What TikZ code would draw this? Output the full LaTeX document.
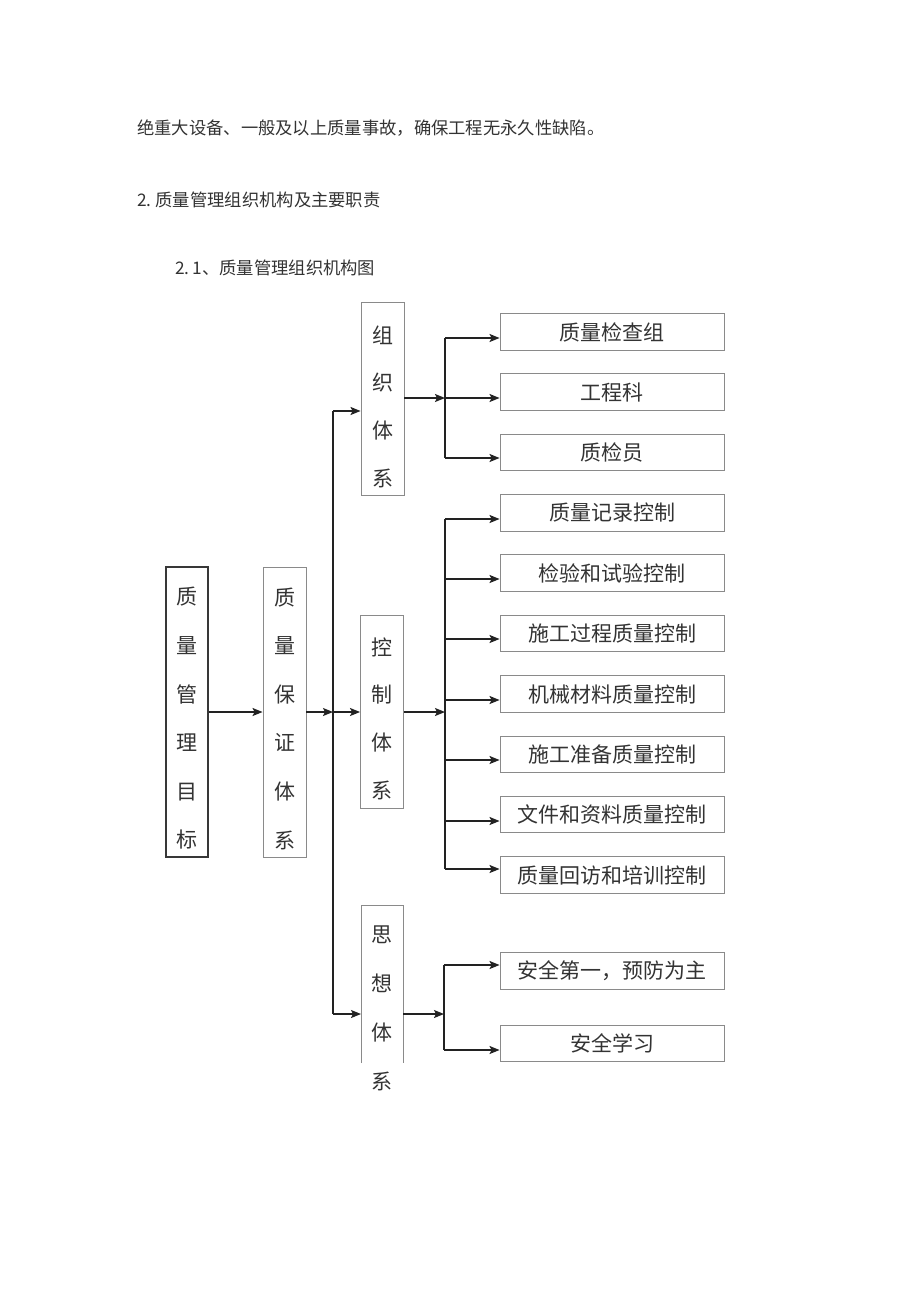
\documentclass[tikz,border=0pt]{standalone}
\usepackage{fontspec}
\setmainfont{Noto Sans CJK SC}
\usetikzlibrary{arrows.meta}
\definecolor{boxgray}{HTML}{8A8A8A}
\definecolor{darkbox}{HTML}{383838}
\definecolor{linec}{HTML}{222222}
\definecolor{txt}{HTML}{333333}
\begin{document}
\begin{tikzpicture}[x=1pt,y=-1pt,
  hbox/.style={draw=boxgray, line width=0.9pt, minimum width=224pt, minimum height=36.5pt, inner sep=0pt, font=\fontsize{21}{21}\selectfont, text=txt},
  vbox/.style={draw=boxgray, line width=0.9pt, minimum width=43pt, inner sep=0pt},
  vtext/.style={align=center, text=txt, inner sep=0pt},
  arr/.style={draw=linec, line width=1.4pt, -{Stealth[length=10pt,width=8pt,inset=2pt]}},
  ln/.style={draw=linec, line width=1.4pt},
  para/.style={anchor=west, font=\fontsize{17.3}{17.3}\selectfont, text=txt, inner sep=0pt}]
\useasboundingbox[fill=white] (0,0) rectangle (920,1301);

% paragraph text
\node[para] (p1) at (137,128) {绝重大设备、一般及以上质量事故，确保工程无永久性缺陷。};
\node[para] (p2) at (137,200) {2.\hspace{4pt}质量管理组织机构及主要职责};
\node[para] (p3) at (175,268) {2.\hspace{3pt}1、质量管理组织机构图};

% left vertical boxes
\node[vbox, draw=darkbox, line width=1.4pt, minimum height=290pt, minimum width=42pt] (goal) at (187,712) {};
\node[vtext, font=\fontsize{21}{48.6}\selectfont] (goalt) at (187,718.5) {质\\量\\管\\理\\目\\标};
\node[vbox, minimum height=290pt] (assure) at (284.5,712) {};
\node[vtext, font=\fontsize{21}{48.6}\selectfont] (assuret) at (284.5,718.5) {质\\量\\保\\证\\体\\系};

% system boxes
\node[vbox, minimum height=193pt] (org) at (382.5,398.5) {};
\node[vtext, font=\fontsize{21}{47.7}\selectfont] (orgt) at (382.5,406.5) {组\\织\\体\\系};
\node[vbox, minimum height=193pt] (ctrl) at (382,711.5) {};
\node[vtext, font=\fontsize{21}{47.7}\selectfont] (ctrlt) at (382,718.5) {控\\制\\体\\系};
% thought box (open at bottom)
\coordinate (thBL) at (361,1063);
\coordinate (thTL) at (361,905);
\coordinate (thTR) at (403,905);
\coordinate (thBR) at (403,1063);
\draw[draw=boxgray, line width=0.9pt] (thBL) -- (thTL) -- (thTR) -- (thBR);
\node[vtext, font=\fontsize{21}{49}\selectfont] (tht) at (382,1008.5) {思\\想\\体\\系};

% right boxes
\node[hbox] (o1) at (612,332) {质量检查组};
\node[hbox] (o2) at (612,392) {工程科};
\node[hbox] (o3) at (612,452.5) {质检员};
\node[hbox] (c1) at (612,513) {质量记录控制};
\node[hbox] (c2) at (612,573) {检验和试验控制};
\node[hbox] (c3) at (612,633.5) {施工过程质量控制};
\node[hbox] (c4) at (612,694) {机械材料质量控制};
\node[hbox] (c5) at (612,754.5) {施工准备质量控制};
\node[hbox] (c6) at (612,814.5) {文件和资料质量控制};
\node[hbox] (c7) at (612,875) {质量回访和培训控制};
\node[hbox] (t1) at (612,971) {安全第一，预防为主};
\node[hbox] (t2) at (612,1043.5) {安全学习};

% main connectors
\draw[arr] (goal) -- (assure);
\coordinate (tTop) at (333,411);
\coordinate (tMid) at (333,712);
\coordinate (tBot) at (333,1014);
\draw[ln] (tTop) -- (tBot);
\draw[arr] (assure.east |- tMid) -- (tMid);
\draw[arr] (tTop) -- (tTop -| org.west);
\draw[arr] (tMid) -- (tMid -| ctrl.west);
\draw[arr] (tBot) -- (tBot -| thBL);

% organisation branch
\coordinate (ob) at (445,398);
\coordinate (obT) at (445,338);
\coordinate (obB) at (445,458);
\draw[arr] (org.east |- ob) -- (ob);
\draw[ln] (obT) -- (obB);
\draw[arr] (obT) -- (obT -| o1.west);
\draw[arr] (ob) -- (ob -| o2.west);
\draw[arr] (obB) -- (obB -| o3.west);

% control branch
\coordinate (cb) at (445,712);
\coordinate (cb1) at (445,519);
\coordinate (cb2) at (445,579);
\coordinate (cb3) at (445,639);
\coordinate (cb4) at (445,700);
\coordinate (cb5) at (445,760);
\coordinate (cb6) at (445,821);
\coordinate (cb7) at (445,869);
\draw[arr] (ctrl.east |- cb) -- (cb);
\draw[ln] (cb1) -- (cb7);
\draw[arr] (cb1) -- (cb1 -| c1.west);
\draw[arr] (cb2) -- (cb2 -| c2.west);
\draw[arr] (cb3) -- (cb3 -| c3.west);
\draw[arr] (cb4) -- (cb4 -| c4.west);
\draw[arr] (cb5) -- (cb5 -| c5.west);
\draw[arr] (cb6) -- (cb6 -| c6.west);
\draw[arr] (cb7) -- (cb7 -| c7.west);

% thought branch
\coordinate (tb) at (444,1014);
\coordinate (tb1) at (444,965);
\coordinate (tb2) at (444,1050);
\draw[arr] (thTR |- tb) -- (tb);
\draw[ln] (tb1) -- (tb2);
\draw[arr] (tb1) -- (tb1 -| t1.west);
\draw[arr] (tb2) -- (tb2 -| t2.west);
\end{tikzpicture}
\end{document}
